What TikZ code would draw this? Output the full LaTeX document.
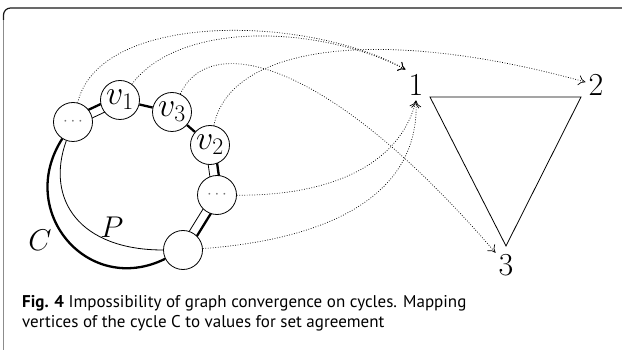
\RequirePackage{fix-cm}
\documentclass[tikz,border=0pt]{standalone}
\usepackage{fontspec}
\newfontfamily\capfont{PT Sans}
\usetikzlibrary{calc,arrows.meta,backgrounds}
\begin{document}
\begin{tikzpicture}[x=1pt,y=-1pt,
  vtx/.style={circle, draw, line width=0.8pt, fill=white, minimum size=39pt, inner sep=0pt},
  dots/.style={vtx, text=black!55, font=\fontsize{17}{17}\selectfont},
  lbl/.style={font=\fontsize{34}{36}\selectfont},
  big/.style={font=\fontsize{30}{32}\selectfont, inner sep=0pt},
  num/.style={font=\fontsize{32}{34}\selectfont, inner xsep=3pt, inner ysep=5pt},
  thickedge/.style={line width=2.3pt},
  thinedge/.style={line width=0.8pt},
  map/.style={line width=0.7pt, dash pattern=on 0.8pt off 1.7pt, -{To[length=7pt,width=10pt]}},
  tri/.style={line width=0.8pt, line join=miter},
  captext/.style={anchor=base west, inner sep=0pt, font=\capfont\fontsize{17}{20}\selectfont}]
\begin{scope}[on background layer]
  \fill[white] (0,0) rectangle (622,350);
\end{scope}
\useasboundingbox (0,0) rectangle (622,350);
% frame
\draw[black!45, line width=1pt] (3.5,350) -- (3.5,20);
\draw[black!90, line width=1.2pt, rounded corners=7pt] (3.5,20) -- (3.5,8) -- (622,8);
% cycle vertices
\node[dots] (dL) at (73,122) {$\cdots$};
\node[vtx, lbl] (v1) at (120,100) {$v_1$};
\node[vtx, lbl] (v3) at (172,112) {$v_3$};
\node[vtx, lbl] (v2) at (210,145) {$v_2$};
\node[dots] (dR) at (217,195) {$\cdots$};
\node[vtx] (B) at (183,250) {};
\node[big] (C) at (40,240) {$C$};
\node[big] (P) at (112,227) {$P$};
% values
\node[num] (n1) at (416,85) {$1$};
\node[num] (n2) at (596,85) {$2$};
\node[num] (n3) at (506,265) {$3$};
\coordinate (t1) at (430,97);
\coordinate (t2) at (581,97);
\coordinate (t3) at (506,246);
\draw[tri] (t1) -- (t2) -- (t3) -- cycle;
% cycle edges
\begin{scope}[on background layer]
  \draw[thickedge] ($(dL)!4.5pt!90:(v1)$) -- ($(v1)!4.5pt!-90:(dL)$);
  \draw[thinedge] ($(dL)!4.5pt!-90:(v1)$) -- ($(v1)!4.5pt!90:(dL)$);
  \draw[thickedge] ($(v2)!4.5pt!90:(dR)$) -- ($(dR)!4.5pt!-90:(v2)$);
  \draw[thinedge] ($(v2)!4.5pt!-90:(dR)$) -- ($(dR)!4.5pt!90:(v2)$);
  \draw[thickedge] ($(dR)!4.5pt!90:(B)$) -- ($(B)!4.5pt!-90:(dR)$);
  \draw[thinedge] ($(dR)!4.5pt!-90:(B)$) -- ($(B)!4.5pt!90:(dR)$);
\end{scope}
\draw[thickedge] (v1) -- (v3);
\draw[thickedge] (v3) -- (v2);
\draw[thickedge] (dL) .. controls (15.5,211.5) and (88,297) .. (B);
\draw[thinedge] (dL) .. controls (45,200) and (80,250) .. (B);
% mappings
\draw[map] (dL) .. controls (100,10) and (310,15) .. (n1.north west);
\draw[map] (v1) .. controls (180,20) and (320,25) .. (n1.north west);
\draw[map] (v3) .. controls (210,30) and (330,60) .. (n3);
\draw[map] (v2) .. controls (230,45) and (380,25) .. (n2);
\draw[map] (dR) .. controls (330,196) and (400,165) .. (n1.south);
\draw[map] (B) .. controls (320,240) and (420,200) .. (n1.south);
% caption
\node[captext] (cap1) at (22,307) {\textbf{Fig. 4} Impossibility of graph convergence on cycles. Mapping};
\node[captext] (cap2) at (22,327) {vertices of the cycle C to values for set agreement};
\end{tikzpicture}
\end{document}
